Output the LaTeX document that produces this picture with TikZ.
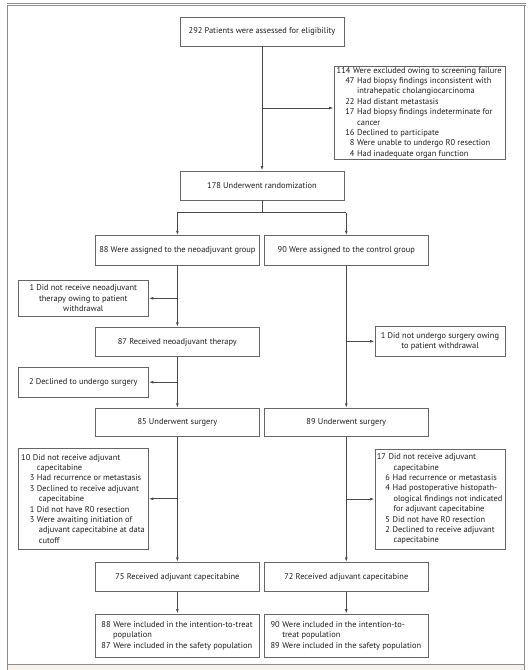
\documentclass[tikz,border=0pt]{standalone}
\usepackage{fontspec}
\setmainfont{PT Sans}
\usetikzlibrary{arrows.meta}
\definecolor{framec}{HTML}{8C8C8C}
\definecolor{boxc}{HTML}{666666}
\definecolor{linec}{HTML}{4A4A4A}
\definecolor{txtc}{HTML}{1E1E1E}
\definecolor{footc}{HTML}{F7F3EC}
\newcommand\nb[2]{\makebox[#1][r]{#2}\hspace{2.6pt}}
\begin{document}
\begin{tikzpicture}[x=1pt,y=-1pt,
  box/.style={draw=boxc, line width=0.9pt, rectangle, inner sep=0pt, text=txtc,
    font=\fontsize{8.4}{10.4}\selectfont, align=center},
  lbox/.style={box, align=left},
  sz/.style 2 args={minimum width=#1, minimum height=#2},
  conn/.style={draw=linec, line width=0.8pt},
  arr/.style={conn, -{Latex[length=4.5pt,width=2.8pt]}}]
\useasboundingbox (0,0) rectangle (532,670);
% frame
\fill[footc] (8,664.5) rectangle (525,670);
\draw[framec, line width=0.9pt] (7,3.3) -- (525.5,3.3);
\draw[framec, line width=0.9pt] (7,5.4) -- (525.5,5.4);
\draw[framec, line width=1.3pt] (7.8,5) -- (7.8,670);
\draw[framec, line width=1.3pt] (524.8,5) -- (524.8,670);
\draw[framec, line width=1pt] (7.8,664) -- (524.8,664);
% nodes
\node[box, sz={164pt}{29pt}] (A) at (262,31.5) {292 Patients were assessed for eligibility};
\node[lbox, sz={171pt}{93pt}] (EX) at (419.5,112.5) {%
\nb{13pt}{114}Were excluded owing to screening failure\\
\nb{17pt}{47}Had biopsy findings inconsistent with\\
\hspace*{19.6pt}intrahepatic cholangiocarcinoma\\
\nb{17pt}{22}Had distant metastasis\\
\nb{17pt}{17}Had biopsy findings indeterminate for\\
\hspace*{19.6pt}cancer\\
\nb{17pt}{16}Declined to participate\\
\nb{17pt}{8}Were unable to undergo R0 resection\\
\nb{17pt}{4}Had inadequate organ function};
\node[box, sz={164pt}{29pt}] (R) at (262,185.5) {178 Underwent randomization};
\node[box, sz={163.5pt}{29.6pt}] (N1) at (177.4,250.5) {88 Were assigned to the neoadjuvant group};
\node[box, sz={164pt}{29.6pt}] (C1) at (346.3,250.5) {90 Were assigned to the control group};
\node[box, sz={130pt}{35.3pt}] (W1) at (83.3,298.3) {1 Did not receive neoadjuvant\\therapy owing to patient\\withdrawal};
\node[box, sz={163.5pt}{29.4pt}] (N2) at (177.4,342) {87 Received neoadjuvant therapy};
\node[box, sz={130pt}{29.3pt}] (W2) at (440,341.3) {1 Did not undergo surgery owing\\to patient withdrawal};
\node[box, sz={130pt}{29.7pt}] (D2) at (83.3,382.2) {2 Declined to undergo surgery};
\node[box, sz={163.5pt}{28.4pt}] (N3) at (177.4,422.5) {85 Underwent surgery};
\node[box, sz={164pt}{28.4pt}] (C3) at (346.3,422.5) {89 Underwent surgery};
\node[lbox, sz={130pt}{101pt}] (L10) at (83.3,498.8) {%
\nb{8.5pt}{10}Did not receive adjuvant\\
\hspace*{15pt}capecitabine\\
\nb{12.5pt}{3}Had recurrence or metastasis\\
\nb{12.5pt}{3}Declined to receive adjuvant\\
\hspace*{17pt}capecitabine\\
\nb{12.5pt}{1}Did not have R0 resection\\
\nb{12.5pt}{3}Were awaiting initiation of\\
\hspace*{17pt}adjuvant capecitabine at data\\
\hspace*{17pt}cutoff};
\node[lbox, sz={130pt}{100.3pt}] (R17) at (440,499.1) {%
\nb{8.5pt}{17}Did not receive adjuvant\\
\hspace*{16pt}capecitabine\\
\nb{12.5pt}{6}Had recurrence or metastasis\\
\nb{12.5pt}{4}Had postoperative histopath-\\
\hspace*{16pt}ological findings not indicated\\
\hspace*{16pt}for adjuvant capecitabine\\
\nb{12.5pt}{5}Did not have R0 resection\\
\nb{12.5pt}{2}Declined to receive adjuvant\\
\hspace*{16pt}capecitabine};
\node[box, sz={163.5pt}{29.4pt}] (N4) at (177.4,577) {75 Received adjuvant capecitabine};
\node[box, sz={164pt}{29.4pt}] (C4) at (346.3,577) {72 Received adjuvant capecitabine};
\node[lbox, sz={163.5pt}{43.7pt}] (N5) at (177.4,635.85) {%
\nb{8.5pt}{88}Were included in the intention-to-treat\\
\hspace*{11pt}population\\
\nb{8.5pt}{87}Were included in the safety population};
\node[lbox, sz={164pt}{43.7pt}] (C5) at (346.3,635.85) {%
\nb{8.5pt}{90}Were included in the intention-to-\\
\hspace*{11pt}treat population\\
\nb{8.5pt}{89}Were included in the safety population};
% connectors
\draw[arr] (A) -- (R);
\coordinate (exj) at (262,108);
\draw[arr] (exj) -- (exj -| EX.west);
\coordinate (rj) at (262,212.7);
\draw[conn] (R.south) -- (rj);
\draw[conn] (rj -| N1.north) -- (rj -| C1.north);
\draw[arr] (rj -| N1.north) -- (N1.north);
\draw[arr] (rj -| C1.north) -- (C1.north);
\draw[arr] (N1) -- (N2);
\draw[arr] (N1.south |- W1.east) -- (W1.east);
\draw[arr] (N2) -- (N3);
\draw[arr] (N2.south |- D2.east) -- (D2.east);
\draw[arr] (N3) -- (N4);
\draw[arr] (N3.south |- L10.east) -- (L10.east);
\draw[arr] (N4) -- (N5);
\draw[arr] (C1) -- (C3);
\draw[arr] (C1.south |- W2.west) -- (W2.west);
\draw[arr] (C3) -- (C4);
\draw[arr] (C3.south |- R17.west) -- (R17.west);
\draw[arr] (C4) -- (C5);
\end{tikzpicture}
\end{document}
